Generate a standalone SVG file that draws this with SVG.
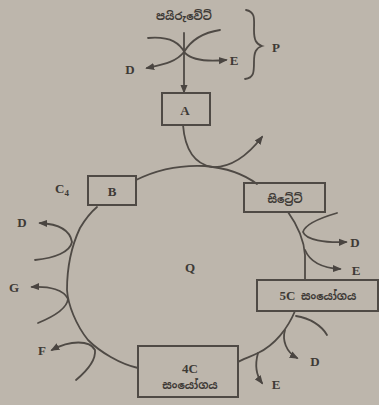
<svg xmlns="http://www.w3.org/2000/svg" width="379" height="405" viewBox="0 0 379 405">
<defs>
<marker id="ah" viewBox="0 0 10 10" refX="8" refY="5" markerWidth="5" markerHeight="5" orient="auto"><path d="M0,1 L10,5 L0,9 Z" fill="#4a4541"/></marker>
<style>
.ln{fill:none;stroke:#4f4a45;stroke-width:1.8;stroke-linecap:round}
.bx{fill:none;stroke:#4f4a45;stroke-width:2}
.t{font-family:"Liberation Serif",serif;font-weight:bold;fill:#3e3a36;font-size:13px;text-anchor:middle}
.s{font-family:"Noto Sans Sinhala","Noto Sans","Liberation Sans",sans-serif;font-weight:bold;fill:#3e3a36;font-size:11px;text-anchor:middle}
</style>
</defs>
<rect width="379" height="405" fill="#bdb6ac"/>
<g id="connectors">
<path class="ln" d="M148,38 C172,36 180,44 185,53 C192,60 205,62 226,60" marker-end="url(#ah)"/>
<path class="ln" d="M220,30 C200,33 190,42 184,52 C176,62 165,64 147,68" marker-end="url(#ah)"/>
<path class="ln" d="M184,33 L184,92" marker-end="url(#ah)"/>
<path class="ln" d="M183,125 C185,150 195,164 212,167 C232,168 248,155 262,137" marker-end="url(#ah)"/>
<path class="ln" d="M136,180 C160,168 185,165 205,166 C228,168 245,175 257,184"/>
<path class="ln" d="M288,212 C298,226 304,240 305,255 L305,280"/>
<path class="ln" d="M295,311 C288,328 275,345 258,353 C250,357 243,359 238,362"/>
<path class="ln" d="M138,368 C120,364 100,352 88,340 C76,325 68,305 67,290 C67,265 72,245 80,228 C86,218 91,212 97,207"/>
<path class="ln" d="M337,213 C320,218 305,224 303,232 C306,240 325,243 346,242" marker-end="url(#ah)"/>
<path class="ln" d="M305,250 C310,262 322,268 340,269" marker-end="url(#ah)"/>
<path class="ln" d="M296,316 C310,318 322,326 327,335"/>
<path class="ln" d="M285,330 C282,340 286,352 297,358" marker-end="url(#ah)"/>
<path class="ln" d="M258,353 C255,364 256,375 262,383" marker-end="url(#ah)"/>
<path class="ln" d="M35,260 C55,258 70,252 72,242 C70,230 58,224 40,223" marker-end="url(#ah)"/>
<path class="ln" d="M38,323 C55,316 67,308 68,299 C64,290 50,286 32,287" marker-end="url(#ah)"/>
<path class="ln" d="M76,380 C88,370 96,360 95,350 C90,340 70,340 52,350" marker-end="url(#ah)"/>
<path class="ln" d="M246,10 C256,12 254,20 254,30 C254,40 256,44 262,46 C256,48 254,52 254,62 C254,72 254,78 245,79"/>
</g>
<g id="pyruvate"><text class="s" x="184" y="20">පයිරුවේට්</text></g>
<g id="lblD1"><text class="t" x="130" y="74">D</text></g>
<g id="lblE1"><text class="t" x="234" y="65">E</text></g>
<g id="lblP"><text class="t" x="276" y="52">P</text></g>
<g id="A"><rect class="bx" x="162" y="93" width="48" height="32"/><text class="t" x="185" y="115">A</text></g>
<g id="B"><rect class="bx" x="88" y="176" width="48" height="29"/><text class="t" x="112" y="196">B</text></g>
<g id="lblC4"><text class="t" x="62" y="193">C<tspan font-size="9" dy="3">4</tspan></text></g>
<g id="citrate"><rect class="bx" x="244" y="183" width="81" height="29"/><text class="s" x="285" y="203">සිට්‍රේට්</text></g>
<g id="c5"><rect class="bx" x="257" y="280" width="121" height="31"/><text class="s" x="318" y="300"><tspan class="t" style="font-family:'Liberation Serif',serif">5C</tspan> සංයෝගය</text></g>
<g id="c4"><rect class="bx" x="138" y="346" width="100" height="51"/><text class="t" x="190" y="373">4C</text><text class="s" x="190" y="389">සංයෝගය</text></g>
<g id="lblQ"><text class="t" x="190" y="272">Q</text></g>
<g id="lblD2"><text class="t" x="355" y="247">D</text></g>
<g id="lblE2"><text class="t" x="356" y="275">E</text></g>
<g id="lblD3"><text class="t" x="315" y="366">D</text></g>
<g id="lblE3"><text class="t" x="276" y="389">E</text></g>
<g id="lblD4"><text class="t" x="22" y="227">D</text></g>
<g id="lblG"><text class="t" x="14" y="292">G</text></g>
<g id="lblF"><text class="t" x="42" y="355">F</text></g>
</svg>
